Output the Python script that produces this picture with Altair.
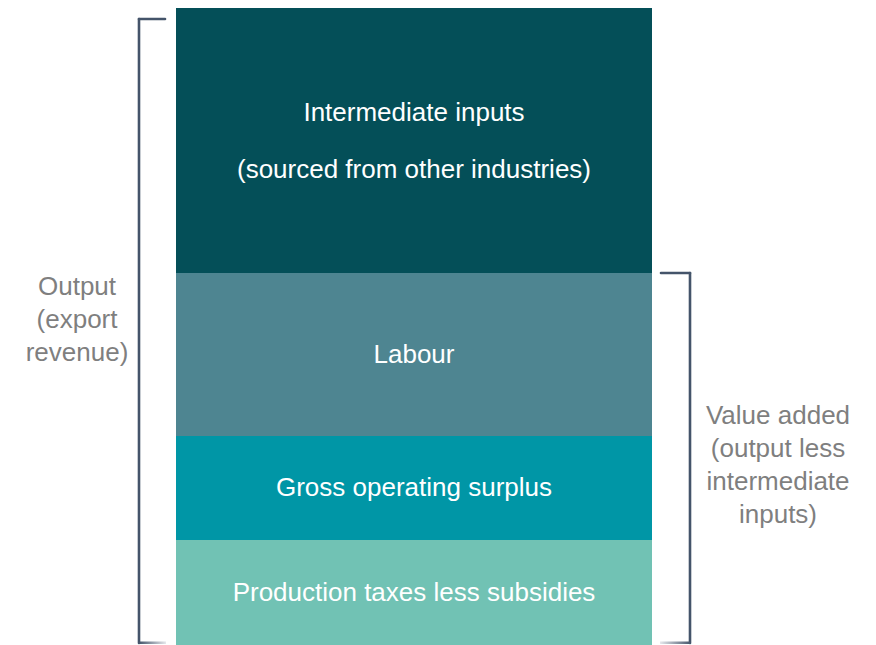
import altair as alt
import pandas as pd

# ---- data -------------------------------------------------------------
categories = ["Production taxes less subsidies", "Gross operating surplus",
              "Labour", "Intermediate inputs"]
values = [105, 104, 163, 265]
colors = ["#71C2B4", "#0096A6", "#4E8591", "#044F58"]
bar_labels = [["Production taxes less subsidies"], ["Gross operating surplus"],
              ["Labour"], ["Intermediate inputs", "(sourced from other industries)"]]
order = [1, 2, 3, 4]

left_label = ["Output", "(export", "revenue)"]
right_label = ["Value added", "(output less", "intermediate", "inputs)"]

total = sum(values)
value_added = sum(values[:3])

df = pd.DataFrame({"cat": categories, "value": values, "order": order,
                   "label": bar_labels})

W, H = 860, 637
FONT = "Liberation Sans"
BR = "#44546A"
FS = 26

yscale = alt.Scale(domain=[0, total], nice=False, zero=True)

base = alt.Chart(df).transform_stack(
    stack="value", groupby=[], as_=["y0", "y1"],
    sort=[alt.SortField("order", order="ascending")]
).transform_calculate(
    mid="(datum.y0 + datum.y1) / 2 + (length(datum.label) - 1) * 27.5"
)

bars = base.mark_bar(cornerRadius=0).encode(
    x=alt.value(168), x2=alt.value(644),
    y=alt.Y("y0:Q", scale=yscale, axis=None),
    y2="y1:Q",
    color=alt.Color("cat:N", scale=alt.Scale(domain=categories, range=colors),
                    legend=None),
)

texts = base.mark_text(color="white", font=FONT, fontSize=FS,
                       align="center", baseline="middle", lineHeight=57).encode(
    x=alt.value(406),
    y=alt.Y("mid:Q", scale=yscale),
    text="label",
)

# brackets (annotation)
br = pd.DataFrame({"top_l": [total - 11], "top_r": [value_added], "bot": [2],
                   "bot_a": [1], "bot_b": [3.5]})
bch = alt.Chart(br)
sw = 2.6
l_vert = bch.mark_rule(color=BR, strokeWidth=sw, strokeCap="round").encode(
    x=alt.value(131), y=alt.Y("top_l:Q", scale=yscale), y2="bot:Q")
l_top = bch.mark_rule(color=BR, strokeWidth=sw, strokeCap="round").encode(
    x=alt.value(131), x2=alt.value(157), y=alt.Y("top_l:Q", scale=yscale))
l_bot = bch.mark_rect(fill=alt.Gradient(gradient="linear", x1=0, x2=1, y1=0, y2=0,
                                        stops=[alt.GradientStop(offset=0, color=BR),
                                               alt.GradientStop(offset=1, color="#E6E8EC")])).encode(
    x=alt.value(131), x2=alt.value(158),
    y=alt.Y("bot_a:Q", scale=yscale), y2="bot_b:Q")

r_vert = bch.mark_rule(color=BR, strokeWidth=sw, strokeCap="round").encode(
    x=alt.value(682), y=alt.Y("top_r:Q", scale=yscale), y2="bot:Q")
r_top = bch.mark_rule(color=BR, strokeWidth=sw, strokeCap="round").encode(
    x=alt.value(653), x2=alt.value(682), y=alt.Y("top_r:Q", scale=yscale))
r_bot = bch.mark_rect(fill=alt.Gradient(gradient="linear", x1=0, x2=1, y1=0, y2=0,
                                        stops=[alt.GradientStop(offset=0, color="#E6E8EC"),
                                               alt.GradientStop(offset=1, color=BR)])).encode(
    x=alt.value(652), x2=alt.value(683),
    y=alt.Y("bot_a:Q", scale=yscale), y2="bot_b:Q")

left_txt = alt.Chart(pd.DataFrame({"txt": [left_label]})).mark_text(
    color="#7F7F7F", font=FONT, fontSize=FS, align="center", baseline="middle",
    lineHeight=33).encode(x=alt.value(69), y=alt.value(279), text="txt")
right_txt = alt.Chart(pd.DataFrame({"txt": [right_label]})).mark_text(
    color="#7F7F7F", font=FONT, fontSize=FS, align="center", baseline="middle",
    lineHeight=33).encode(x=alt.value(770), y=alt.value(408), text="txt")

chart = alt.layer(bars, texts, l_vert, l_top, l_bot, r_vert, r_top, r_bot,
                  left_txt, right_txt).properties(
    width=W, height=H, padding=0, background="white",
    autosize=alt.AutoSizeParams(type="none")
).configure_view(stroke="transparent", strokeWidth=0)

chart.save("out.html", embed_options={"renderer": "svg", "actions": False})
